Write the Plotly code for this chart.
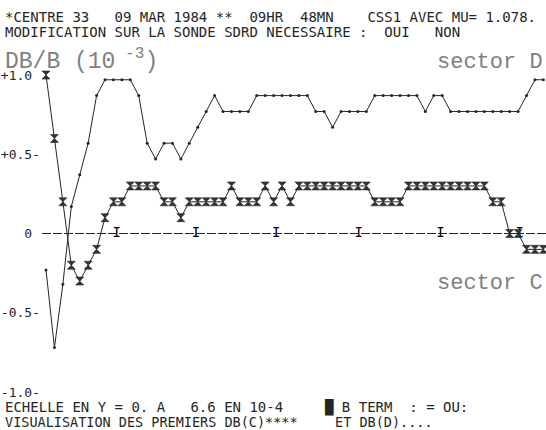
import plotly.graph_objects as go

# ---- data ----
idx = list(range(60))
db_c = [1.0, 0.6, 0.2, -0.2, -0.3, -0.2, -0.1, 0.1, 0.2, 0.2,
        0.3, 0.3, 0.3, 0.3, 0.2, 0.2, 0.1, 0.2, 0.2, 0.2,
        0.2, 0.2, 0.3, 0.2, 0.2, 0.2, 0.3, 0.2, 0.3, 0.2,
        0.3, 0.3, 0.3, 0.3, 0.3, 0.3, 0.3, 0.3, 0.3, 0.2,
        0.2, 0.2, 0.2, 0.3, 0.3, 0.3, 0.3, 0.3, 0.3, 0.3,
        0.3, 0.3, 0.3, 0.2, 0.2, 0.0, 0.0, -0.1, -0.1, -0.1]
db_d = [-0.23, -0.72, -0.32, 0.17, 0.37, 0.57, 0.87, 0.97, 0.97, 0.97,
        0.97, 0.87, 0.57, 0.47, 0.57, 0.57, 0.47, 0.57, 0.67, 0.77,
        0.87, 0.77, 0.77, 0.77, 0.77, 0.87, 0.87, 0.87, 0.87, 0.87,
        0.87, 0.87, 0.77, 0.77, 0.67, 0.77, 0.77, 0.77, 0.77, 0.87,
        0.87, 0.87, 0.87, 0.87, 0.87, 0.77, 0.87, 0.87, 0.77, 0.77,
        0.77, 0.77, 0.77, 0.77, 0.77, 0.77, 0.77, 0.87, 0.97, 0.97]
x_ticks = [8.4, 17.8, 27.3, 37.1, 46.8, 56.2]
y_ticks = [1.0, 0.5, 0.0, -0.5, -1.0]
y_tick_text = ["+1.0\u00a0", "+0.5-", "0\u00a0", "-0.5-", "-1.0-"]

W, H = 546, 430
ML = 42
INK = "#262626"
TYPED = "#808080"
DOT = "DejaVu Sans Mono"
TYPE = "Liberation Mono"


def px(x):
    return (x - ML) / (W - ML)


def py(y):
    return 1 - y / H


fig = go.Figure()

# zero line with "I" ticks
fig.add_shape(type="line", xref="paper", yref="y", x0=0, x1=1, y0=0, y1=0,
              line=dict(color=INK, width=1.2, dash="9px,2px"))
fig.add_trace(go.Scatter(x=x_ticks, y=[0] * len(x_ticks), mode="text",
                         text=["I"] * len(x_ticks),
                         textfont=dict(family=DOT, size=14, color="#000000"),
                         hoverinfo="skip", showlegend=False))

fig.add_trace(go.Scatter(x=idx, y=db_d, mode="lines+markers",
                         line=dict(color=INK, width=1),
                         marker=dict(size=3, color=INK),
                         showlegend=False))
fig.add_trace(go.Scatter(x=idx, y=db_c, mode="lines+markers",
                         line=dict(color=INK, width=1),
                         marker=dict(symbol="hourglass", size=8, color="#333333",
                                     line=dict(width=0.6, color=INK)),
                         showlegend=False))

ann = []


def txt(s, x, y, size=14, family=DOT, color=INK, anchor="left"):
    ann.append(dict(text=s, x=px(x), y=py(y), xref="paper", yref="paper",
                    xanchor=anchor, yanchor="middle", showarrow=False,
                    font=dict(family=family, size=size, color=color)))


txt("*CENTRE 33   09 MAR 1984 **  09HR  48MN    CSS1 AVEC MU= 1.078.", 3, 17)
txt("MODIFICATION SUR LA SONDE SDRD NECESSAIRE :  OUI   NON", 3, 32)
txt("DB/B (10<sup> -3</sup>)", 3, 60, size=23, family=TYPE, color=TYPED)
txt("sector D", 545, 62, size=22, family=TYPE, color=TYPED, anchor="right")
txt("sector C", 545, 283, size=22, family=TYPE, color=TYPED, anchor="right")
txt("ECHELLE EN Y = 0. A   6.6 EN 10-4", 3, 407)
txt("\u2588 B TERM  : = OU:", 322, 407)
txt("VISUALISATION DES PREMIERS DB(C)****", 3, 422, size=13.5)
txt("ET DB(D)....", 333, 422, size=13.5)

fig.update_layout(
    width=W, height=H,
    margin=dict(l=ML, r=0, t=0, b=0),
    paper_bgcolor="white", plot_bgcolor="white",
    annotations=ann,
    xaxis=dict(range=[(42 - 46) / 8.43, (546 - 46) / 8.43], visible=False,
               showgrid=False, zeroline=False),
    yaxis=dict(range=[(233.5 - 430) / 158.5, 233.5 / 158.5],
               tickvals=y_ticks, ticktext=y_tick_text, ticks="",
               showgrid=False, zeroline=False, showline=False,
               ticklabelstandoff=1,
               tickfont=dict(family=DOT, size=13, color=INK)),
)

fig.write_html("out.html", config={"displayModeBar": False},
               post_script="document.body.style.margin='0px';")
